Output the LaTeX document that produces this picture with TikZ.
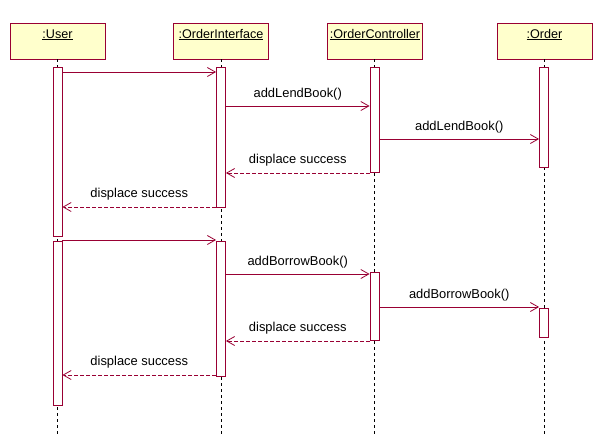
\documentclass[tikz,border=0pt]{standalone}
\usepackage{fontspec}
\setmainfont{Liberation Sans}
\usetikzlibrary{arrows.meta}
\definecolor{rose}{RGB}{153,0,51}
\definecolor{boxfill}{RGB}{255,255,204}
\begin{document}
\begin{tikzpicture}[x=1pt,y=-1pt,
  font=\fontsize{12.6}{15}\selectfont,
  objbox/.style={draw=rose, fill=boxfill, line width=0.8pt, minimum width=95pt, minimum height=36pt, inner sep=0pt},
  objlbl/.style={anchor=base, inner sep=0pt},
  lifeline/.style={draw=black, line width=0.8pt, dash pattern=on 3pt off 3pt},
  actbox/.style={draw=rose, fill=white, line width=0.8pt, minimum width=9pt, inner sep=0pt},
  msg/.style={draw=rose, line width=0.8pt, -{Straight Barb[length=8pt,width=9pt]}},
  retmsg/.style={msg, dash pattern=on 4pt off 2pt},
  mlbl/.style={anchor=base, inner sep=0pt, font=\fontsize{12.9}{15}\selectfont}
]
\useasboundingbox (0,0) rectangle (595,445);

% objects
\node[objbox] (user) at (57.5,41) {};
\node[objbox] (oi)   at (221,41) {};
\node[objbox] (oc)   at (375,41) {};
\node[objbox] (ord)  at (544.5,41) {};
\node[objlbl] (userl) at (57.5,38) {\underline{:User}};
\node[objlbl] (oil)   at (221,38) {\underline{:OrderInterface}};
\node[objlbl] (ocl)   at (375,38) {\underline{:OrderController}};
\node[objlbl] (ordl)  at (544.5,38) {\underline{:Order}};

% lifeline ends
\coordinate (userend) at (57.5,435);
\coordinate (oiend) at (221,435);
\coordinate (ocend) at (374.5,435);
\coordinate (ordend) at (544,435);
\draw[lifeline] (user.south) -- (userend);
\draw[lifeline] (oi.south) -- (oiend);
\draw[lifeline] (oc.south -| ocend) -- (ocend);
\draw[lifeline] (ord.south -| ordend) -- (ordend);

% activations
\node[actbox, minimum height=169pt] (u1)  at (57.5,151.5) {};
\node[actbox, minimum height=164pt] (u2)  at (57.5,323) {};
\node[actbox, minimum height=140pt] (oi1) at (221,137) {};
\node[actbox, minimum height=135pt] (oi2) at (221,308.5) {};
\node[actbox, minimum height=105pt] (oc1) at (374.5,119.5) {};
\node[actbox, minimum height=68pt]  (oc2) at (374.5,306) {};
\node[actbox, minimum height=100pt] (or1) at (544,117) {};
\node[actbox, minimum height=29pt]  (or2) at (544,322.5) {};

% messages (first interaction)
\draw[msg] (u1.east |- 0,72) -- (oi1.west |- 0,72);
\draw[msg] (oi1.east |- 0,106) -- node[mlbl, yshift=9pt] (l1) {addLendBook()} (oc1.west |- 0,106);
\draw[msg] (oc1.east |- 0,139) -- node[mlbl, yshift=9pt] (l2) {addLendBook()} (or1.west |- 0,139);
\draw[retmsg] (oc1.west |- 0,173) -- node[mlbl, yshift=10pt] (l3) {displace success} (oi1.east |- 0,173);
\draw[retmsg] (oi1.west |- 0,207) -- node[mlbl, yshift=10pt] (l4) {displace success} (u1.east |- 0,207);

% messages (second interaction)
\draw[msg] (u2.east |- 0,240) -- (oi2.west |- 0,240);
\draw[msg] (oi2.east |- 0,274) -- node[mlbl, yshift=9pt] (l5) {addBorrowBook()} (oc2.west |- 0,274);
\draw[msg] (oc2.east |- 0,307) -- node[mlbl, yshift=9pt] (l6) {addBorrowBook()} (or2.west |- 0,307);
\draw[retmsg] (oc2.west |- 0,341) -- node[mlbl, yshift=10pt] (l7) {displace success} (oi2.east |- 0,341);
\draw[retmsg] (oi2.west |- 0,375) -- node[mlbl, yshift=10pt] (l8) {displace success} (u2.east |- 0,375);
\end{tikzpicture}
\end{document}
